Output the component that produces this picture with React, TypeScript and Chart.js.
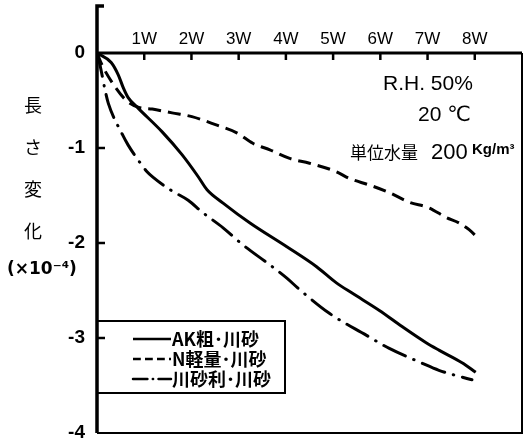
import React, { useEffect, useRef } from 'react';
import { Chart, registerables } from 'chart.js';

Chart.register(...registerables);

// ---- data ----
const weekTicks = [1, 2, 3, 4, 5, 6, 7, 8];
const weekLabels = ['1W', '2W', '3W', '4W', '5W', '6W', '7W', '8W'];
const yTickValues = [0, -1, -2, -3, -4];
const yTickLabels = ['0', '-1', '-2', '-3', '-4'];
const seriesLabels = ['AK粗･川砂', 'N軽量･川砂', '川砂利･川砂'];

const akWeeks = [0, 0.3, 0.45, 0.56, 0.66, 0.87, 1.38, 1.8, 2.14, 2.33, 2.67, 3.24, 4.02, 4.65, 5.07, 5.41, 5.98, 6.46, 6.97, 7.25, 7.73, 8.02];
const akValues = [0, -0.1, -0.23, -0.37, -0.47, -0.58, -0.83, -1.07, -1.3, -1.44, -1.58, -1.79, -2.04, -2.25, -2.42, -2.53, -2.71, -2.88, -3.05, -3.13, -3.26, -3.36];

const nWeeks = [0, 0.11, 0.32, 0.6, 0.87, 1.17, 1.59, 2.01, 2.54, 2.96, 3.3, 3.66, 4.08, 4.5, 5.07, 5.34, 5.77, 6.19, 6.61, 7.03, 7.39, 7.67, 7.88, 8.09];
const nValues = [0, -0.13, -0.31, -0.49, -0.57, -0.59, -0.63, -0.67, -0.76, -0.84, -0.95, -1.02, -1.11, -1.16, -1.25, -1.32, -1.39, -1.47, -1.57, -1.63, -1.73, -1.79, -1.86, -1.96];

const gWeeks = [0, 0.06, 0.18, 0.24, 0.54, 0.66, 0.92, 1.06, 1.19, 1.55, 1.93, 2.24, 2.67, 3.09, 3.66, 4.02, 4.29, 4.92, 5.7, 6.19, 6.86, 7.24, 7.94];
const gValues = [0, -0.12, -0.41, -0.53, -0.86, -0.97, -1.16, -1.25, -1.31, -1.44, -1.55, -1.68, -1.84, -2.02, -2.23, -2.37, -2.49, -2.74, -2.97, -3.11, -3.26, -3.34, -3.44];

const yTitleChars = ['長', 'さ', '変', '化'];
const yTitleUnit = '(×10⁻⁴)';
const noteRH = 'R.H. 50%';
const noteTemp = '20 ℃';
const noteWaterLabel = '単位水量';
const noteWaterValue = '200';
const noteWaterUnit = 'Kg/m³';

const toPoints = (xs: number[], ys: number[]) => xs.map((x, i) => ({ x, y: ys[i] }));

const CJK = '"Noto Sans CJK JP", "Noto Sans", sans-serif';
const LAT = '"Liberation Sans", "DejaVu Sans", sans-serif';

const decorPlugin = {
  id: 'decor',
  afterDraw(chart: any) {
    const { ctx, chartArea: a, scales } = chart;
    const xs = scales.x;
    const ys = scales.y;
    ctx.save();
    ctx.strokeStyle = '#000';
    ctx.fillStyle = '#000';
    ctx.lineCap = 'butt';

    // frame
    ctx.lineWidth = 2;
    ctx.beginPath();
    ctx.moveTo(a.right, a.top);
    ctx.lineTo(a.right, a.bottom);
    ctx.lineTo(a.left, a.bottom);
    ctx.stroke();

    const y0 = ys.getPixelForValue(0);
    ctx.lineWidth = 3;
    ctx.beginPath();
    ctx.moveTo(a.left, y0);
    ctx.lineTo(a.right, y0);
    ctx.stroke();

    ctx.lineWidth = 3.5;
    ctx.beginPath();
    ctx.moveTo(a.left + 7, 6);
    ctx.lineTo(a.left, 6);
    ctx.lineTo(a.left, a.bottom);
    ctx.stroke();

    // inward ticks
    ctx.lineWidth = 2.5;
    weekTicks.forEach((w) => {
      const px = xs.getPixelForValue(w);
      ctx.beginPath();
      ctx.moveTo(px, y0);
      ctx.lineTo(px, y0 + 7);
      ctx.stroke();
    });
    yTickValues.slice(1, -1).forEach((v) => {
      const py = ys.getPixelForValue(v);
      ctx.beginPath();
      ctx.moveTo(a.left, py);
      ctx.lineTo(a.left + 8, py);
      ctx.stroke();
    });

    // y title
    ctx.textBaseline = 'middle';
    ctx.textAlign = 'center';
    ctx.font = `18px ${CJK}`;
    yTitleChars.forEach((c, i) => ctx.fillText(c, 33, 105 + i * 42));
    ctx.textAlign = 'left';
    ctx.font = `bold 17px "DejaVu Sans", sans-serif`;
    ctx.fillText(yTitleUnit, 7, 270);

    // notes
    ctx.font = `21px ${LAT}`;
    ctx.fillText(noteRH, 383, 84);
    ctx.fillText(noteTemp, 418, 115);
    ctx.font = `17px ${CJK}`;
    ctx.fillText(noteWaterLabel, 350, 153);
    ctx.font = `22px ${LAT}`;
    ctx.fillText(noteWaterValue, 431, 153);
    ctx.font = `bold 15px ${LAT}`;
    ctx.fillText(noteWaterUnit, 472, 150);

    // legend
    const bx = a.left;
    const by = 321;
    ctx.lineWidth = 2;
    ctx.setLineDash([]);
    ctx.strokeRect(bx, by, 188, 72);
    ctx.font = `bold 18px ${CJK}`;
    chart.data.datasets.forEach((ds: any, i: number) => {
      const ly = by + 18 + i * 20;
      ctx.save();
      ctx.lineWidth = 2.5;
      ctx.lineCap = ds.borderCapStyle || 'butt';
      ctx.setLineDash((ds.borderDash || []).map((d: number) => d * 0.6));
      ctx.beginPath();
      ctx.moveTo(133, ly);
      ctx.lineTo(171, ly);
      ctx.stroke();
      ctx.restore();
      ctx.textAlign = 'left';
      ctx.fillText(ds.label, 172, ly);
    });
    ctx.restore();
  },
};

export default function App() {
  const ref = useRef<HTMLCanvasElement | null>(null);
  useEffect(() => {
    if (!ref.current) return;
    const common = {
      borderColor: '#000',
      borderWidth: 3,
      pointRadius: 0,
      fill: false,
      cubicInterpolationMode: 'monotone' as const,
    };
    const chart = new Chart(ref.current, {
      type: 'line',
      data: {
        datasets: [
          { ...common, label: seriesLabels[0], data: toPoints(akWeeks, akValues), borderDash: [] },
          { ...common, label: seriesLabels[1], data: toPoints(nWeeks, nValues), borderDash: [13, 7] },
          { ...common, label: seriesLabels[2], data: toPoints(gWeeks, gValues), borderDash: [24, 9, 0.5, 9], borderCapStyle: 'round' },
        ],
      },
      options: {
        animation: false,
        responsive: true,
        maintainAspectRatio: false,
        layout: { padding: { top: 0, left: 0, right: 2, bottom: 9 } },
        plugins: { legend: { display: false }, tooltip: { enabled: false } },
        scales: {
          x: {
            type: 'linear',
            position: 'top',
            min: 0,
            max: 9,
            grid: { display: false, drawTicks: false },
            border: { display: false },
            afterFit: (s: any) => { s.height = 53; s.paddingLeft = 0; s.paddingRight = 0; },
            afterBuildTicks: (s: any) => { s.ticks = weekTicks.map((v) => ({ value: v })); },
            ticks: {
              color: '#000',
              padding: 3,
              maxRotation: 0,
              autoSkip: false,
              font: { family: 'Liberation Sans', size: 17 },
              callback: (v: any) => {
                const i = weekTicks.indexOf(Number(v));
                return i >= 0 ? weekLabels[i] : '';
              },
            },
          },
          y: {
            type: 'linear',
            min: -4,
            max: 0,
            grid: { display: false, drawTicks: false },
            border: { display: false },
            afterFit: (s: any) => { s.width = 97; s.paddingTop = 0; s.paddingBottom = 0; },
            afterBuildTicks: (s: any) => { s.ticks = yTickValues.map((v) => ({ value: v })); },
            ticks: {
              color: '#000',
              padding: 12,
              font: { family: 'Liberation Sans', size: 19, weight: 'bold' },
              callback: (v: any) => {
                const i = yTickValues.indexOf(Number(v));
                return i >= 0 ? yTickLabels[i] : '';
              },
            },
          },
        },
      },
      plugins: [decorPlugin],
    } as any);
    return () => chart.destroy();
  }, []);
  return (
    <div style={{ position: 'absolute', left: 0, top: 0, width: 524, height: 442, background: '#fff' }}>
      <canvas ref={ref} />
    </div>
  );
}
